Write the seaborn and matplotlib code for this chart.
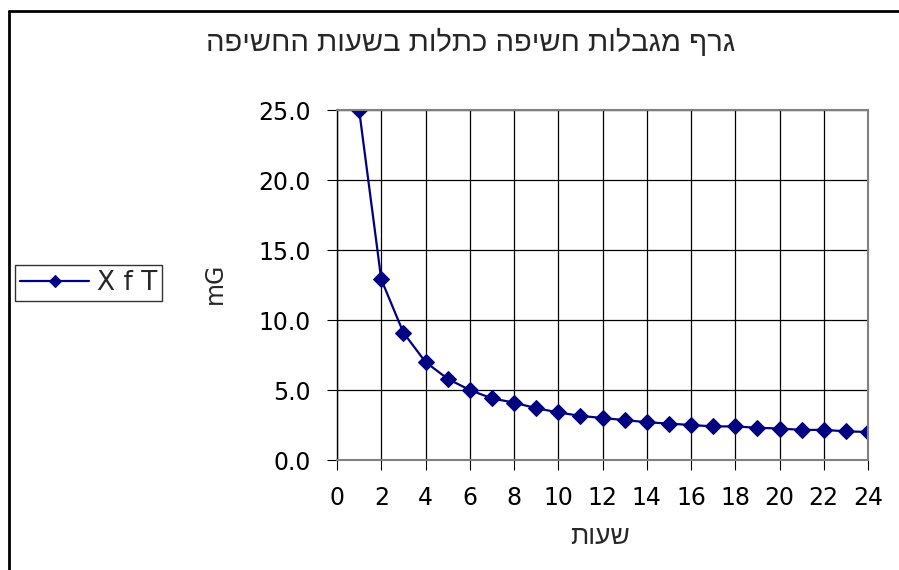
import numpy as np
import pandas as pd
import seaborn as sns
import matplotlib
matplotlib.use('Agg')
import matplotlib.pyplot as plt

# data
hours = list(range(1, 25))
mg = [25.0, 12.9, 9.1, 7.0, 5.8, 5.0, 4.4, 4.1, 3.7, 3.4, 3.15, 3.0,
      2.85, 2.7, 2.6, 2.5, 2.4, 2.4, 2.3, 2.25, 2.15, 2.15, 2.05, 2.0]
series_name = 'X f T'
title = 'גרף מגבלות חשיפה כתלות בשעות החשיפה'
xlabel = 'שעות'
ylabel = 'mG'
xticks = list(range(0, 25, 2))
yticks = [0, 5, 10, 15, 20, 25]


def visual(s):
    # matplotlib has no bidi support, so reverse hebrew into display order
    return s[::-1]


df = pd.DataFrame({'hours': hours, 'mG': mg, 'series': series_name})

sns.set_style('white')
plt.rcParams['font.family'] = ['DejaVu Sans']
heb_font = ['Liberation Sans', 'DejaVu Sans']

navy = '#000080'
fig = plt.figure(figsize=(8.99, 5.70), dpi=100)
ax = fig.add_axes([337 / 899, 1 - 460 / 570, (868 - 337) / 899, 350 / 570])

sns.lineplot(data=df, x='hours', y='mG', hue='series', palette=[navy],
             marker='D', markersize=8.5, markeredgecolor=navy,
             linewidth=1.6, ax=ax)

ax.set_xlim(0, 24)
ax.set_ylim(0, 25)
ax.set_xticks(xticks)
ax.set_yticks(yticks)
ax.set_yticklabels([f'{v:.1f}' for v in yticks])
ax.grid(True, color='black', linewidth=0.9)
ax.set_axisbelow(True)
ax.tick_params(axis='both', direction='out', length=7, width=0.8,
               color='black', pad=12, labelsize=17, colors='black')
ax.tick_params(axis='y', left=True)
ax.tick_params(axis='x', bottom=True)

for side in ['top', 'right', 'bottom']:
    ax.spines[side].set_color('#808080')
    ax.spines[side].set_linewidth(1.5)
ax.spines['left'].set_color('black')
ax.spines['left'].set_linewidth(1.0)

ax.set_xlabel('')
ax.set_ylabel('')
fig.text(600 / 899, 1 - 537 / 570, visual(xlabel), fontsize=19,
         family=heb_font, ha='center', va='center')
fig.text(215 / 899, 1 - 283 / 570, ylabel, rotation=90, fontsize=17,
         ha='center', va='center')
fig.text(471 / 899, 1 - 43 / 570, visual(title), fontsize=21,
         family=heb_font, ha='center', va='center')

leg = ax.legend(loc='center left', bbox_to_anchor=(15 / 899, 1 - 283 / 570),
                bbox_transform=fig.transFigure, fontsize=19, frameon=True,
                fancybox=False, handlelength=2.6, handletextpad=0.3,
                borderpad=0.2, borderaxespad=0)
leg.get_frame().set_edgecolor('black')
leg.get_frame().set_linewidth(1.0)
for h in leg.legend_handles:
    h.set_markersize(6)

# outer chart frame (left and top edges visible)
fig.add_artist(plt.Line2D([9 / 899, 9 / 899], [0, 1 - 11 / 570],
                          color='black', linewidth=2, transform=fig.transFigure))
fig.add_artist(plt.Line2D([9 / 899, 1], [1 - 11 / 570, 1 - 11 / 570],
                          color='black', linewidth=2, transform=fig.transFigure))

fig.savefig('out.png', dpi=100)
